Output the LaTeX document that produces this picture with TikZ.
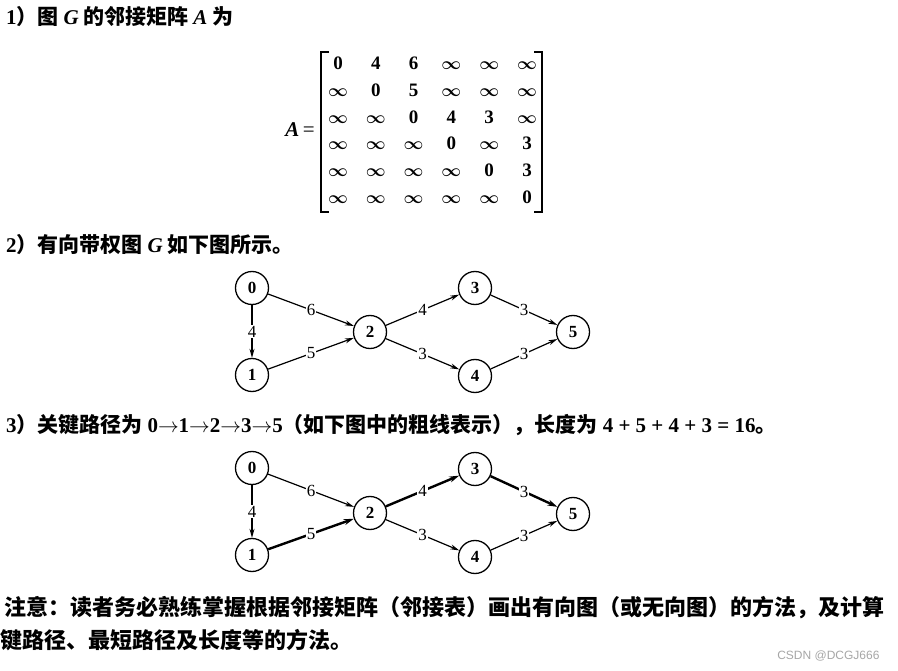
\documentclass[tikz,border=0pt]{standalone}
\usepackage{fontspec}
\setmainfont{Liberation Serif}
\newfontfamily\cjk{Noto Sans CJK SC}
\newfontfamily\wmfont{Liberation Sans}
\usetikzlibrary{arrows.meta}
\newcommand{\romn}[1]{{\rmfamily #1}}
\newcommand{\infy}{{\boldmath$\infty$}}
\tikzstyle{heading} = [anchor=west, inner sep=0pt, font=\fontsize{21}{21}\selectfont\cjk\bfseries]
\tikzstyle{entry} = [inner sep=0pt, text height=13pt, text depth=0pt, font=\fontsize{19}{19}\selectfont\bfseries]
\tikzstyle{vertex} = [circle, draw=black, line width=1.3pt, minimum size=33pt, inner sep=0pt, font=\fontsize{17}{17}\selectfont\bfseries]
\tikzstyle{wt} = [fill=white, inner sep=1pt, font=\fontsize{17}{17}\selectfont]
\tikzstyle{arc} = [line width=1.2pt, -{Stealth[length=9pt,width=5pt]}]
\tikzstyle{crit} = [line width=2.4pt, -{Stealth[length=10pt,width=6pt]}]
\begin{document}
\begin{tikzpicture}[x=1pt, y=-1pt]
\useasboundingbox (0,0) rectangle (898,671);
\node (t1) [heading] at (6,17) {\romn{1}）图 \romn{\textit{G}} 的邻接矩阵 \romn{\textbf{\textit{A}}} 为};
% adjacency matrix
\node (lhs) at (300,130) {\fontsize{21}{21}\selectfont\textbf{\textit{A}}\,=};
\foreach \row [count=\r] in {{0,4,6,\infy,\infy,\infy},{\infy,0,5,\infy,\infy,\infy},{\infy,\infy,0,4,3,\infy},{\infy,\infy,\infy,0,\infy,3},{\infy,\infy,\infy,\infy,0,3},{\infy,\infy,\infy,\infy,\infy,0}}
  \foreach \e [count=\c] in \row
    \node (m\r\c) [entry] at (300.2+37.8*\c, 36.2+26.8*\r) {\e};
\draw [line width=1.8pt] (329,52) -| (321,212) -- (329,212);
\draw [line width=1.8pt] (534,52) -| (542,212) -- (534,212);
\node (t2) [heading] at (6,245) {\romn{2}）有向带权图 \romn{\textit{G}} 如下图所示。};
% graph G
\node (a0) [vertex] at (252,288) {0};
\node (a1) [vertex] at (252,375) {1};
\node (a2) [vertex] at (370,332) {2};
\node (a3) [vertex] at (475,288) {3};
\node (a4) [vertex] at (475,376) {4};
\node (a5) [vertex] at (573,332) {5};
\draw [arc] (a0) -- node[wt]{4} (a1);
\draw [arc] (a0) -- node[wt]{6} (a2);
\draw [arc] (a1) -- node[wt]{5} (a2);
\draw [arc] (a2) -- node[wt]{4} (a3);
\draw [arc] (a2) -- node[wt]{3} (a4);
\draw [arc] (a3) -- node[wt]{3} (a5);
\draw [arc] (a4) -- node[wt]{3} (a5);
\node (t3) [heading] at (6,425) {\romn{3}）关键路径为 \romn{0$\to$1$\to$2$\to$3$\to$5}（如下图中的粗线表示），长度为 \romn{4 + 5 + 4 + 3 = 16}。};
% critical path
\node (b0) [vertex] at (252,468) {0};
\node (b1) [vertex] at (252,555) {1};
\node (b2) [vertex] at (370,513) {2};
\node (b3) [vertex] at (475,469) {3};
\node (b4) [vertex] at (475,557) {4};
\node (b5) [vertex] at (573,514) {5};
\draw [arc] (b0) -- node[wt]{4} (b1);
\draw [arc] (b0) -- node[wt]{6} (b2);
\draw [crit] (b1) -- node[wt]{5} (b2);
\draw [crit] (b2) -- node[wt]{4} (b3);
\draw [arc] (b2) -- node[wt]{3} (b4);
\draw [crit] (b3) -- node[wt]{3} (b5);
\draw [arc] (b4) -- node[wt]{3} (b5);
\node (n1) [heading, font=\fontsize{22}{22}\selectfont\cjk\bfseries] at (4,608) {注意：读者务必熟练掌握根据邻接矩阵（邻接表）画出有向图（或无向图）的方法，及计算};
\node (n2) [heading, font=\fontsize{22}{22}\selectfont\cjk\bfseries] at (0,640) {键路径、最短路径及长度等的方法。};
\node (wm) [anchor=east, text=gray!70, font=\fontsize{12}{12}\selectfont\wmfont] at (883,656) {CSDN @DCGJ666};
\end{tikzpicture}
\end{document}
